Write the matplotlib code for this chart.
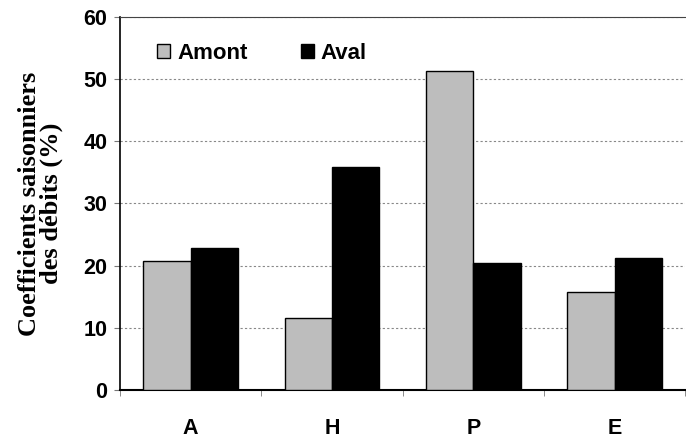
import numpy as np
import matplotlib.pyplot as plt

saisons = ['A', 'H', 'P', 'E']
amont = [20.7, 11.6, 51.4, 15.8]
aval = [22.8, 35.9, 20.4, 21.2]

plt.figure(figsize=(6.86, 4.38), dpi=100)
ax = plt.axes([0.175, 0.11, 0.824, 0.851])

x = np.arange(len(saisons))
w = 0.335
ax.bar(x - w/2, amont, w, color='#bdbdbd', edgecolor='black', linewidth=1.0,
       label='Amont', zorder=3)
ax.bar(x + w/2, aval, w, color='black', edgecolor='black', linewidth=1.0,
       label='Aval', zorder=3)

ax.set_xlim(-0.5, 3.5)
ax.set_ylim(0, 60)
ax.set_yticks(np.arange(0, 61, 10))
ax.set_xticks(x)
ax.set_xticklabels(saisons)
ax.set_xticks(np.arange(-0.5, 3.6, 1), minor=True)
ax.tick_params(axis='x', which='major', length=0, pad=20)
ax.tick_params(axis='x', which='minor', length=4, direction='out', color='#777777')
ax.tick_params(axis='y', length=4, color='#777777', pad=5)
for lab in ax.get_xticklabels() + ax.get_yticklabels():
    lab.set_fontfamily('Liberation Sans')
    lab.set_fontweight('bold')
    lab.set_fontsize(15.5)

ax.yaxis.grid(True, linestyle=(0, (2, 2)), color='#888888', linewidth=0.8, zorder=0)
ax.spines['left'].set_linewidth(1.2)
ax.spines['bottom'].set_linewidth(1.5)
ax.spines['top'].set_linewidth(0.8)
ax.spines['top'].set_color('#444444')
ax.spines['right'].set_visible(False)

ax.set_ylabel('Coefficients saisonniers\ndes débits (%)', fontfamily='Liberation Serif',
              fontweight='bold', fontsize=19, linespacing=0.92, labelpad=15)

ax.legend(loc='upper left', bbox_to_anchor=(0.03, 0.985), ncol=2, frameon=False,
          prop={'family': 'Liberation Sans', 'weight': 'bold', 'size': 16},
          handlelength=0.6, handleheight=0.6, handletextpad=0.3, columnspacing=2.4)

plt.savefig('out.png')
